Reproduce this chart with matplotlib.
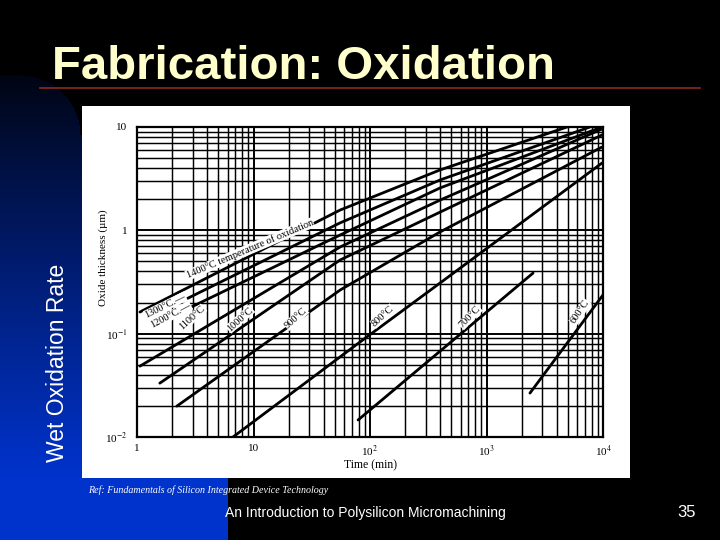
import numpy as np
import matplotlib
matplotlib.use("Agg")
import matplotlib.pyplot as plt
from matplotlib import font_manager

# ---------------- data ----------------
temperatures = ["1400", "1300", "1200", "1100", "1000", "900", "800", "700", "600"]

time_1400 = [1.06, 55.3, 399, 4910]
thick_1400 = [0.162, 1.57, 3.84, 10.0]
time_1300 = [2.34, 55.3, 399, 7730]
thick_1300 = [0.202, 1.18, 3.07, 10.0]
time_1200 = [2.58, 55.3, 399, 9800]
thick_1200 = [0.169, 0.90, 2.57, 10.0]
time_1100 = [1.06, 55.3, 399, 9800]
thick_1100 = [0.0485, 0.689, 1.96, 9.56]
time_1000 = [1.57, 55.3, 399, 9800]
thick_1000 = [0.0332, 0.516, 1.50, 8.37]
time_900 = [2.2, 55.3, 399, 9800]
thick_900 = [0.0199, 0.264, 0.964, 6.40]
time_800 = [6.67, 82, 399, 9800]
thick_800 = [0.010, 0.083, 0.309, 4.48]
time_700 = [79, 2510]
thick_700 = [0.0146, 0.386]
time_600 = [2360, 10000]
thick_600 = [0.0266, 0.237]

x_ticks = [1, 10, 100, 1000, 10000]
x_tick_labels = ["1", "10", "10$^2$", "10$^3$", "10$^4$"]
y_ticks = [0.01, 0.1, 1, 10]
y_tick_labels = ["10$^{-2}$", "10$^{-1}$", "1", "10"]

line_labels = ["1400°C temperature of oxidation", "1300°C.—", "1200°C.—", "1100°C",
               "1000°C", "900°C", "800°C", "700°C", "600°C"]

title_text = "Fabrication: Oxidation"
side_text = "Wet Oxidation Rate"
footer_text = "An Introduction to Polysilicon Micromachining"
page_text = "35"
ref_text = "Ref: Fundamentals of Silicon Integrated Device Technology"

# ---------------- fonts ----------------
available = {f.name for f in font_manager.fontManager.ttflist}
narrow = "Liberation Sans Narrow" if "Liberation Sans Narrow" in available else "Liberation Sans"
serif = "Liberation Serif"
plt.rcParams["mathtext.fontset"] = "stix"

W, H = 720, 540
fig = plt.figure(figsize=(7.2, 5.4), dpi=100, facecolor="black")

# ---------------- background ----------------
bg = fig.add_axes([0, 0, 1, 1], zorder=-10)
img = np.zeros((H, W, 3))
yy, xx = np.mgrid[0:H, 0:W]
ramp = np.clip((yy - 45) / 430.0, 0, 1) ** 0.9
blue = np.array([0.0, 0.2, 0.8])
# left strip with rounded top corner
r = 60.0
cx, cy = 20.0, 75.0 + r
inside_round = (yy >= cy) | ((xx - cx) ** 2 + (yy - cy) ** 2 <= r ** 2) | (xx < cx)
mask_strip = (xx < 82) & (yy >= 75) & inside_round
for c in range(3):
    img[..., c] = np.where(mask_strip, blue[c] * ramp, 0)
bottom_mask = (yy >= 476) & (xx < 228)
img[bottom_mask] = blue
bg.imshow(img, extent=[0, W, H, 0], aspect="auto", interpolation="bilinear")
bg.set_xlim(0, W)
bg.set_ylim(H, 0)
bg.axis("off")

def fx(px):
    return px / W

def fy(py):
    return 1 - py / H

# white panel
bg.add_patch(plt.Rectangle((82, 106), 548, 372, facecolor="white", edgecolor="none", zorder=2))
# rule under title
bg.plot([40, 700], [88, 88], color="#8a2a1c", lw=1.2, zorder=3)

# ---------------- chart ----------------
ax = fig.add_axes([fx(137), fy(437), (603 - 137) / W, (437 - 127) / H], zorder=5)
ax.set_facecolor("white")
ax.set_xscale("log")
ax.set_yscale("log")
ax.set_xlim(1, 1e4)
ax.set_ylim(1e-2, 10)
ax.grid(which="major", color="black", lw=1.4)
ax.grid(which="minor", color="black", lw=1.05)
ax.set_axisbelow(True)
for s in ax.spines.values():
    s.set_linewidth(1.6)
    s.set_color("black")
ax.tick_params(which="both", length=0)
ax.set_xticks(x_ticks)
ax.set_xticklabels(x_tick_labels, fontsize=8, family=serif)
ax.set_yticks(y_ticks)
ax.set_yticklabels(y_tick_labels, fontsize=8, family=serif)
ax.tick_params(axis="x", pad=5)
ax.tick_params(axis="y", pad=7)
ax.set_xlabel("Time (min)", fontsize=8.5, family=serif, labelpad=0)
fig.text(fx(103), fy(258), "Oxide thickness (µm)", rotation=90, fontsize=8,
         family=serif, ha="center", va="center", zorder=6)

series = [(time_1400, thick_1400), (time_1300, thick_1300), (time_1200, thick_1200),
          (time_1100, thick_1100), (time_1000, thick_1000), (time_900, thick_900),
          (time_800, thick_800), (time_700, thick_700), (time_600, thick_600)]
for t, d in series:
    ax.plot(t, d, color="black", lw=2.0, solid_capstyle="round", clip_on=True, zorder=4)

label_pos = [(9.3, 0.66, 23), (1.75, 0.186, 26), (1.95, 0.150, 28), (2.97, 0.142, 42),
             (7.66, 0.138, 42), (23.2, 0.141, 42), (129, 0.148, 42), (721, 0.145, 46),
             (6350, 0.162, 56)]
for txt, (lx, ly, rot) in zip(line_labels, label_pos):
    ax.text(lx, ly, txt, rotation=rot, fontsize=7.5, family=serif, ha="center", va="center",
            zorder=6, bbox=dict(facecolor="white", edgecolor="none", pad=0.3))

# ---------------- slide texts ----------------
def fit_text(x, y, s, width_px, **kw):
    t = fig.text(x, y, s, **kw)
    fig.canvas.draw()
    w = t.get_window_extent().width
    t.set_fontsize(t.get_fontsize() * width_px / w)
    return t

fit_text(fx(52), fy(79), title_text, 503, fontsize=34, weight="bold", color="#FFFFCC",
         family=narrow, ha="left", va="baseline")
fig.text(fx(58), fy(363), side_text, rotation=90, fontsize=16.5, color="white",
         family="Liberation Sans", ha="center", va="center")
fit_text(fx(225), fy(517), footer_text, 280, fontsize=12, color="white",
         family=narrow, ha="left", va="baseline")
fig.text(fx(696), fy(517), page_text, fontsize=12, color="white", family=narrow,
         ha="right", va="baseline")
fit_text(fx(88), fy(493), ref_text, 242, fontsize=7, color="white", family=serif,
         style="italic", ha="left", va="baseline")

fig.savefig("out.png", dpi=100, facecolor="black")
